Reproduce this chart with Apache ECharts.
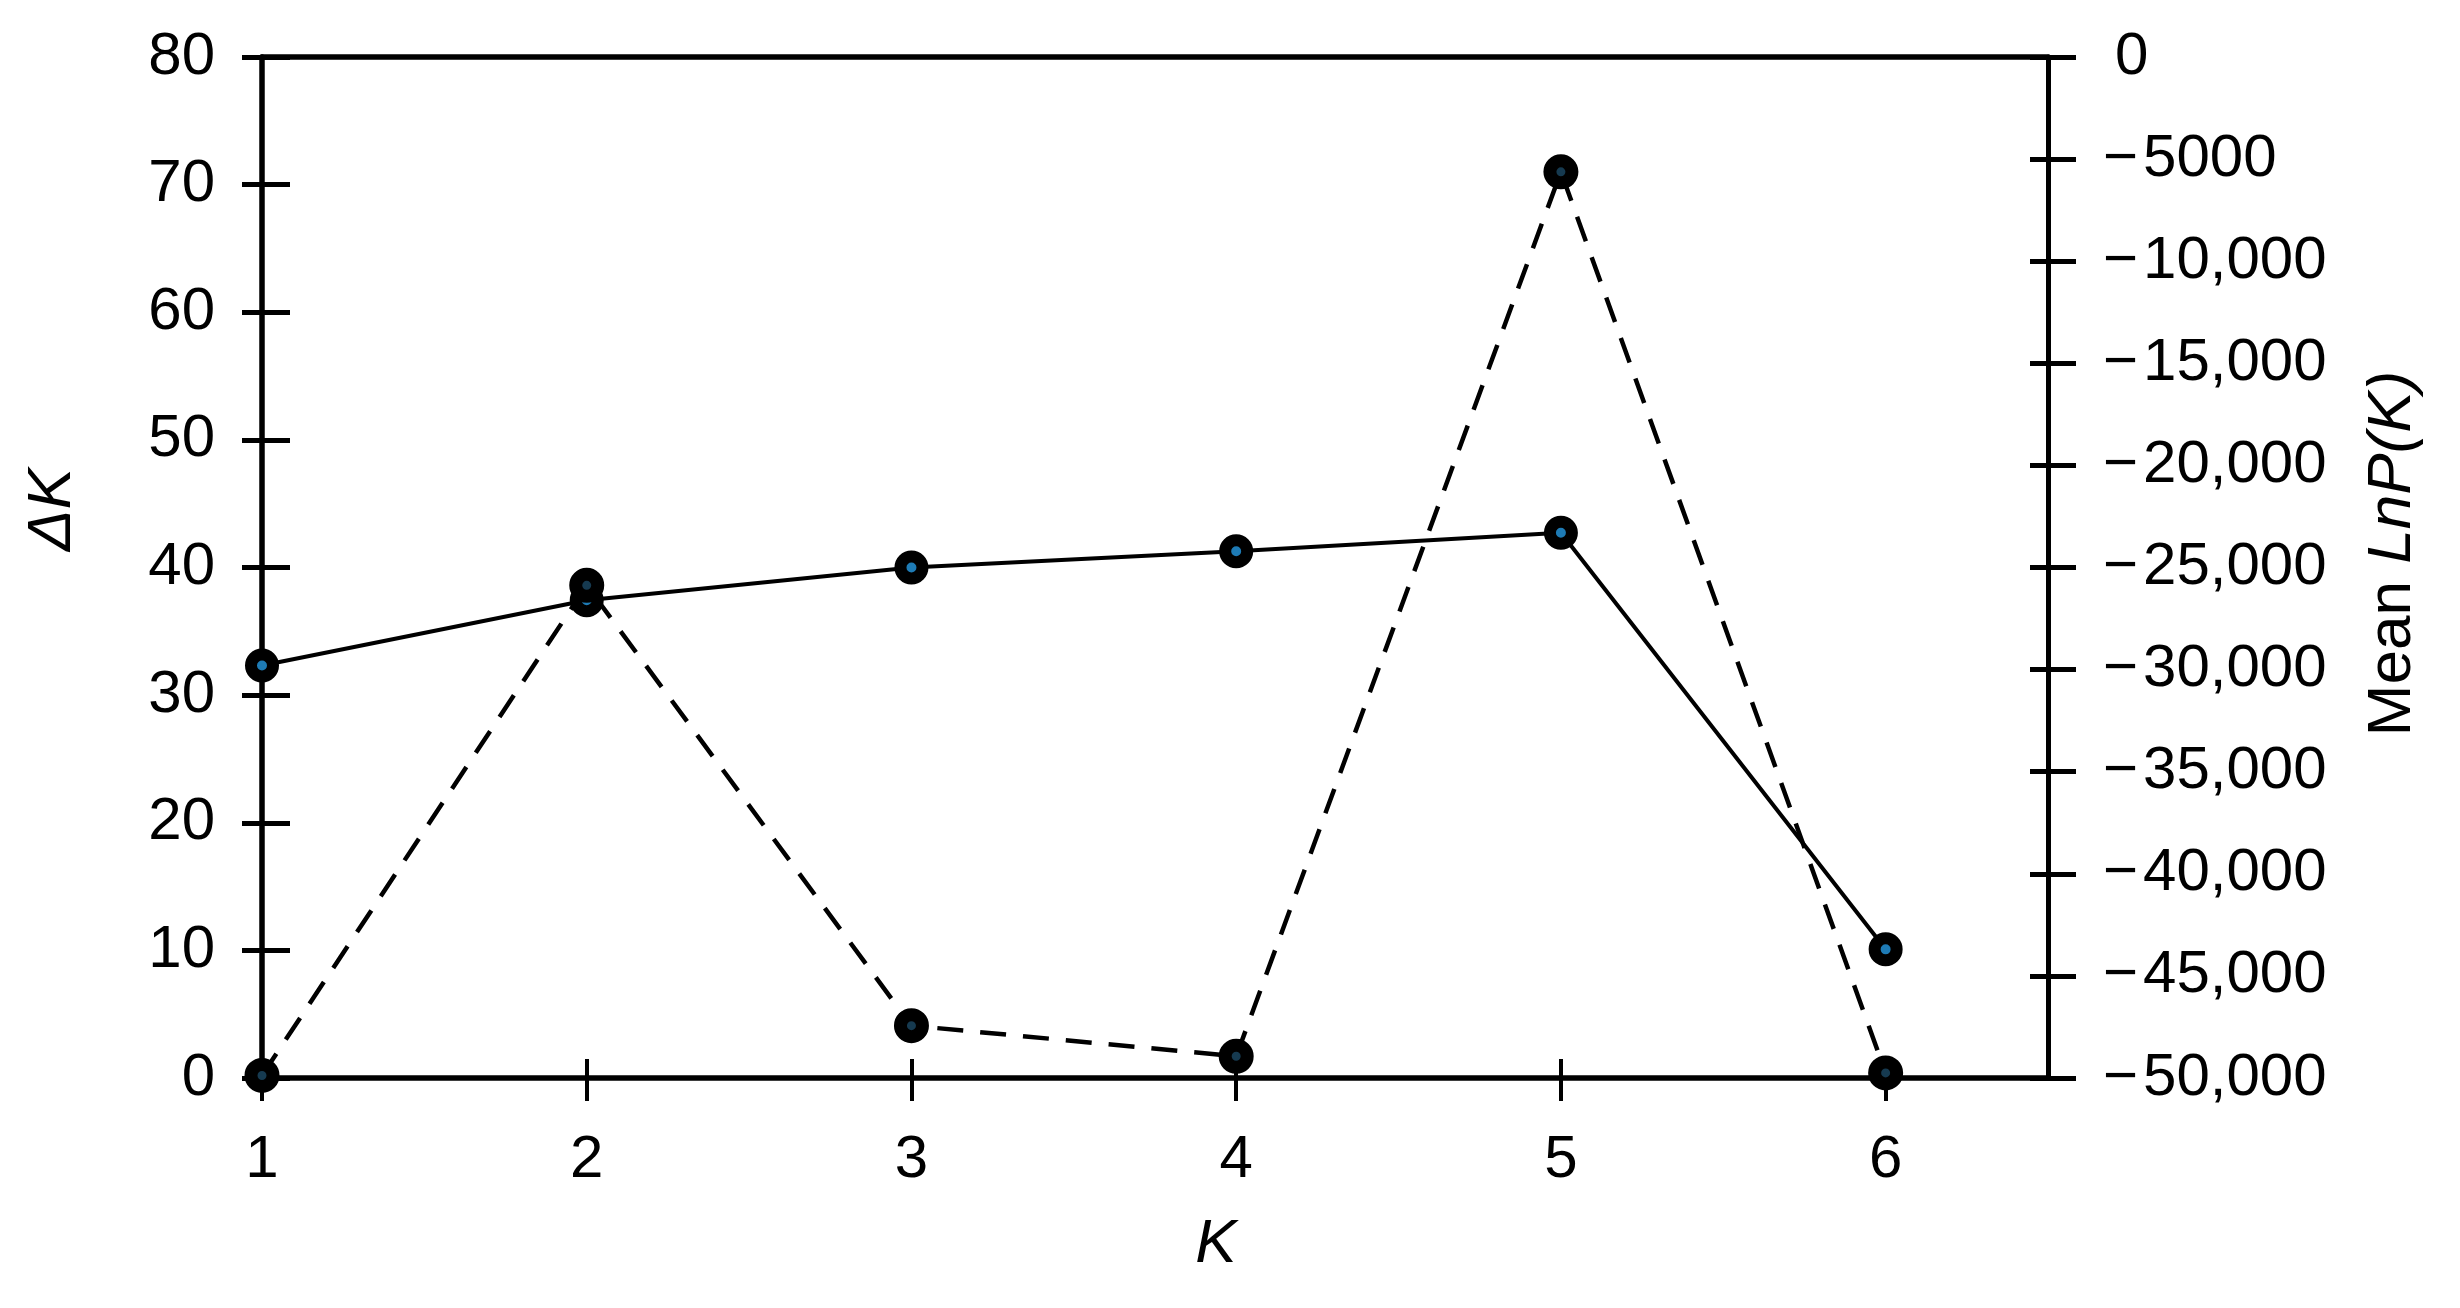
<!DOCTYPE html>
<html><head><meta charset="utf-8">
<script src="https://cdn.jsdelivr.net/npm/echarts@6/dist/echarts.min.js"></script>
<style>html,body{margin:0;padding:0;background:#fff}#c{width:2460px;height:1308px}</style>
</head><body><div id="c"></div>
<script>
const kValues = [1, 2, 3, 4, 5, 6];
const deltaK = [0.2, 38.6, 4.1, 1.7, 71.0, 0.4];
const meanLnPK = [-29800, -26600, -25000, -24200, -23300, -43700];
const xTickValues = [1, 2, 3, 4, 5, 6];

const FONT = 'Liberation Sans';
const LABEL_SIZE = 60;
const NAME_SIZE = 62;

function fmtRight(v) {
  if (v === 0) return '\u20090';
  const a = Math.abs(v);
  const s = a >= 10000 ? a.toLocaleString('en-US') : String(a);
  return '\u2212\u200A' + s;
}

const chart = echarts.init(document.getElementById('c'), null, {renderer: 'canvas'});
const lineStyleAxis = {color: '#000', width: 5.5};
chart.setOption({
  animation: false,
  backgroundColor: '#fff',
  grid: {left: 262, right: 412, top: 57, bottom: 230, containLabel: false},
  xAxis: [
    {
      type: 'value', position: 'bottom', min: 1, max: 6.5, interval: 1,
      name: 'K', nameLocation: 'middle', nameGap: 136,
      nameTextStyle: {fontFamily: FONT, fontSize: NAME_SIZE, fontStyle: 'italic', color: '#000', padding: [0, 0, 0, 122]},
      axisLine: {show: true, onZero: false, lineStyle: lineStyleAxis},
      axisTick: {show: true, inside: false, length: 23, lineStyle: {color: '#000', width: 4}, customValues: xTickValues},
      axisLabel: {show: true, margin: 52, fontFamily: FONT, fontSize: LABEL_SIZE, color: '#000', customValues: xTickValues},
      splitLine: {show: false}
    },
    {
      type: 'value', position: 'top', min: 1, max: 6.5, interval: 1,
      axisLine: {show: true, onZero: false, lineStyle: lineStyleAxis},
      axisTick: {show: false}, axisLabel: {show: false}, splitLine: {show: false}
    },
    {
      type: 'value', position: 'bottom', min: 1, max: 6.5, interval: 1,
      axisLine: {show: false, onZero: false},
      axisTick: {show: true, inside: true, length: 19, lineStyle: {color: '#000', width: 4}, customValues: xTickValues},
      axisLabel: {show: false}, splitLine: {show: false}
    }
  ],
  yAxis: [
    {
      type: 'value', position: 'left', min: 0, max: 80, interval: 10,
      name: 'ΔK', nameLocation: 'middle', nameGap: 178,
      nameTextStyle: {fontFamily: FONT, fontSize: NAME_SIZE, fontStyle: 'italic', color: '#000', padding: [0, 0, 0, 116]},
      axisLine: {show: true, onZero: false, lineStyle: lineStyleAxis},
      axisTick: {show: true, inside: false, length: 20, lineStyle: {color: '#000', width: 5}},
      axisLabel: {show: true, margin: 47, fontFamily: FONT, fontSize: LABEL_SIZE, color: '#000'},
      splitLine: {show: false}
    },
    {
      type: 'value', position: 'right', min: -50000, max: 0, interval: 5000,
      name: '{a|Mean }{b|LnP(K)}', nameLocation: 'middle', nameGap: 314,
      nameTextStyle: {
        fontFamily: FONT, fontSize: NAME_SIZE, color: '#000', padding: [0, 0, 0, 28],
        rich: {
          a: {fontFamily: FONT, fontSize: NAME_SIZE, color: '#000'},
          b: {fontFamily: FONT, fontSize: NAME_SIZE, color: '#000', fontStyle: 'italic'}
        }
      },
      axisLine: {show: true, onZero: false, lineStyle: {color: '#000', width: 5}},
      axisTick: {show: true, inside: false, length: 28, lineStyle: {color: '#000', width: 5}},
      axisLabel: {show: true, margin: 55, fontFamily: FONT, fontSize: LABEL_SIZE, color: '#000', formatter: fmtRight},
      splitLine: {show: false}
    },
    {
      type: 'value', position: 'left', min: 0, max: 80, interval: 10,
      axisLine: {show: false, onZero: false},
      axisTick: {show: true, inside: true, length: 28, lineStyle: {color: '#000', width: 5}},
      axisLabel: {show: false}, splitLine: {show: false}
    },
    {
      type: 'value', position: 'right', min: -50000, max: 0, interval: 5000,
      axisLine: {show: false, onZero: false},
      axisTick: {show: true, inside: true, length: 18, lineStyle: {color: '#000', width: 5}},
      axisLabel: {show: false}, splitLine: {show: false}
    }
  ],
  series: [
    {
      name: 'Mean LnP(K)', type: 'line', xAxisIndex: 0, yAxisIndex: 1,
      data: kValues.map((k, i) => [k, meanLnPK[i]]),
      symbol: 'circle', symbolSize: 22,
      lineStyle: {color: '#000', width: 4, type: 'solid'},
      itemStyle: {color: '#1e7bb5', borderColor: '#000', borderWidth: 12},
      z: 3
    },
    {
      name: 'ΔK', type: 'line', xAxisIndex: 0, yAxisIndex: 0,
      data: kValues.map((k, i) => [k, deltaK[i]]),
      symbol: 'circle', symbolSize: 22,
      lineStyle: {color: '#000', width: 4.5, type: [26, 17]},
      itemStyle: {color: '#163a50', borderColor: '#000', borderWidth: 13},
      z: 4
    }
  ]
});
</script></body></html>
